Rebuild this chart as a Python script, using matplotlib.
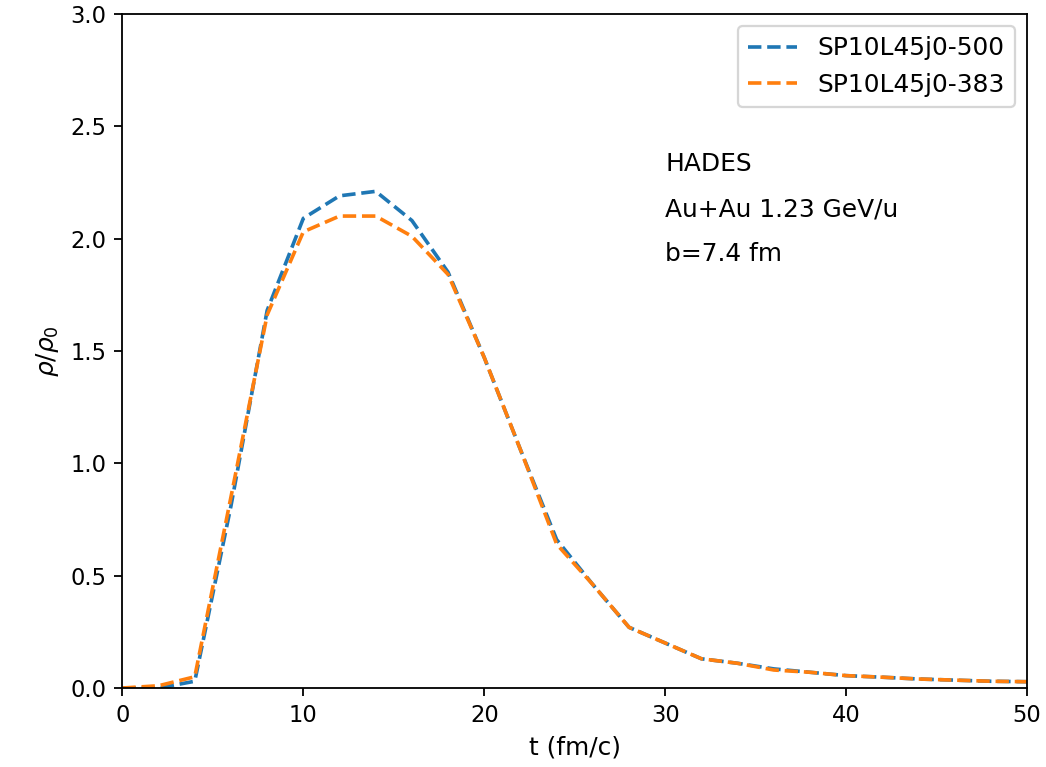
import matplotlib
matplotlib.use("Agg")
import matplotlib.pyplot as plt

# time grid (fm/c) and density ratios
t = [0, 2, 4, 6, 8, 10, 12, 14, 16, 18, 20, 22, 24, 26, 28, 30,
     32, 34, 36, 38, 40, 42, 44, 46, 48, 50]
rho_500 = [0.0, 0.0, 0.03, 0.81, 1.68, 2.09, 2.19, 2.21, 2.08, 1.85, 1.47, 1.06,
           0.66, 0.46, 0.27, 0.20, 0.13, 0.11, 0.085, 0.07, 0.055, 0.048,
           0.04, 0.035, 0.03, 0.028]
rho_383 = [0.0, 0.01, 0.05, 0.85, 1.66, 2.03, 2.10, 2.10, 2.01, 1.84, 1.47, 1.06,
           0.64, 0.46, 0.27, 0.20, 0.13, 0.11, 0.08, 0.07, 0.055, 0.048,
           0.04, 0.035, 0.03, 0.028]

labels = ["SP10L45j0-500", "SP10L45j0-383"]
notes = ["HADES", "Au+Au 1.23 GeV/u", "b=7.4 fm"]

fig = plt.figure(figsize=(1046 / 163, 767 / 163), dpi=163)
ax = fig.add_axes([0.117, 0.103, 0.865, 0.879])

ax.plot(t, rho_500, ls="--", lw=1.6, label=labels[0])
ax.plot(t, rho_383, ls="--", lw=1.6, label=labels[1])

ax.set_xlim(0, 50)
ax.set_ylim(0, 3.0)
ax.set_xlabel("t (fm/c)", fontsize=11)
ax.set_ylabel(r"$\rho/\rho_0$", fontsize=11)
ax.legend(loc="upper right", fontsize=11)

for i, s in enumerate(notes):
    ax.text(30, 2.33 - 0.2 * i, s, va="center", ha="left", fontsize=11)

fig.savefig("out.png", dpi=163)
